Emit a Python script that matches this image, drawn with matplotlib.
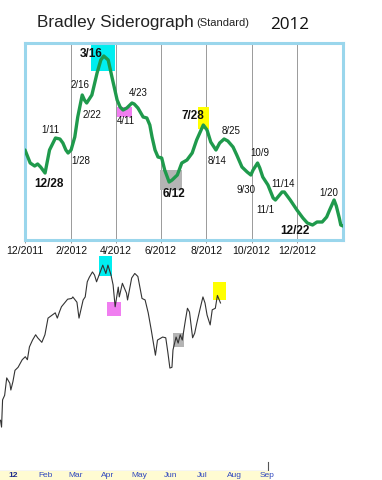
import pandas as pd
import matplotlib.pyplot as plt
import matplotlib.dates as mdates
from matplotlib.patches import Rectangle

plt.rcParams['font.family'] = ['Liberation Sans', 'DejaVu Sans']

# Bradley siderograph (arbitrary units)
sidero_dates = [
    '2011-12-01', '2011-12-08', '2011-12-14', '2011-12-18', '2011-12-22', '2011-12-28',
    '2012-01-03', '2012-01-11', '2012-01-17', '2012-01-21', '2012-01-25', '2012-01-28',
    '2012-02-01', '2012-02-06', '2012-02-10', '2012-02-16', '2012-02-19', '2012-02-22',
    '2012-02-29', '2012-03-07', '2012-03-12', '2012-03-16', '2012-03-22', '2012-03-27',
    '2012-04-03', '2012-04-07', '2012-04-11', '2012-04-16', '2012-04-23', '2012-04-26',
    '2012-05-01', '2012-05-08', '2012-05-13', '2012-05-17', '2012-05-20', '2012-05-24',
    '2012-05-28', '2012-06-02', '2012-06-06', '2012-06-12', '2012-06-16', '2012-06-23',
    '2012-06-29', '2012-07-06', '2012-07-13', '2012-07-19', '2012-07-28', '2012-08-02',
    '2012-08-07', '2012-08-14', '2012-08-19', '2012-08-25', '2012-08-30', '2012-09-06',
    '2012-09-11', '2012-09-18', '2012-09-25', '2012-09-30', '2012-10-03', '2012-10-09',
    '2012-10-12', '2012-10-16', '2012-10-23', '2012-10-30', '2012-11-02', '2012-11-11',
    '2012-11-14', '2012-11-22', '2012-12-01', '2012-12-09', '2012-12-15', '2012-12-22',
    '2012-12-28', '2013-01-04', '2013-01-10', '2013-01-14', '2013-01-20', '2013-01-23',
    '2013-01-27', '2013-01-29', '2013-02-01',
]
sidero_vals = [
    90, 77, 74, 76, 73, 67,
    90, 102, 101, 97, 90, 87,
    90, 103, 123, 145, 140, 137,
    145, 167, 180, 184, 180, 163,
    140, 133, 130, 132, 137, 136,
    132, 123, 122, 115, 103, 90,
    83, 82, 70, 58, 60, 65,
    77, 80, 87, 100, 115, 110,
    98, 90, 97, 101, 99, 93,
    85, 73, 68, 65, 70, 77,
    72, 63, 55, 42, 40, 48,
    48, 40, 30, 22, 17, 15,
    18, 18, 23, 30, 40, 34,
    22, 15, 14,
]

# turning-point labels: text, date, value, bold
turn_labels = ['3/16', '2/16', '2/22', '4/23', '4/11', '1/11', '1/28', '12/28', '6/12',
               '7/28', '8/25', '8/14', '10/9', '9/30', '11/14', '11/1', '12/22', '1/20']
turn_dates = ['2012-02-28', '2012-02-13', '2012-02-29', '2012-05-02', '2012-04-15',
              '2012-01-04', '2012-02-14', '2012-01-02', '2012-06-19', '2012-07-14',
              '2012-09-03', '2012-08-15', '2012-10-12', '2012-09-23', '2012-11-12',
              '2012-10-20', '2012-11-28', '2013-01-13']
turn_vals = [186, 155, 125, 147, 119, 110, 79, 56, 46, 124, 109, 79, 87, 50, 56, 30, 9, 47]
turn_bold = ['3/16', '12/28', '6/12', '7/28', '12/22']

# highlight boxes on the siderograph: start, end, low, high, colour
top_box_start = ['2012-02-28', '2012-04-03', '2012-07-21', '2012-05-31']
top_box_end = ['2012-03-31', '2012-04-23', '2012-08-05', '2012-06-29']
top_box_low = [169, 123, 111, 50]
top_box_high = [195, 133, 133, 70]
box_colors = ['#00eef0', '#f07ef0', '#ffff00', '#b4b4b4']

# stock index (S&P 500 approx.)
spx_dates = [
    '2011-12-18', '2011-12-19', '2011-12-20', '2011-12-22', '2011-12-24', '2011-12-27',
    '2011-12-28', '2011-12-30', '2012-01-01', '2012-01-04', '2012-01-08', '2012-01-11',
    '2012-01-13', '2012-01-15', '2012-01-18', '2012-01-21', '2012-01-23', '2012-01-27',
    '2012-01-30', '2012-02-02', '2012-02-06', '2012-02-09', '2012-02-11', '2012-02-13',
    '2012-02-15', '2012-02-18', '2012-02-21', '2012-02-25', '2012-02-26', '2012-03-01',
    '2012-03-03', '2012-03-07', '2012-03-09', '2012-03-11', '2012-03-13', '2012-03-16',
    '2012-03-18', '2012-03-20', '2012-03-23', '2012-03-26', '2012-03-29', '2012-03-31',
    '2012-04-03', '2012-04-05', '2012-04-07', '2012-04-10', '2012-04-11', '2012-04-14',
    '2012-04-18', '2012-04-19', '2012-04-23', '2012-04-26', '2012-04-29', '2012-05-03',
    '2012-05-06', '2012-05-09', '2012-05-12', '2012-05-16', '2012-05-18', '2012-05-23',
    '2012-05-26', '2012-05-28', '2012-05-30', '2012-06-01', '2012-06-02', '2012-06-05',
    '2012-06-07', '2012-06-09', '2012-06-11', '2012-06-14', '2012-06-16', '2012-06-18',
    '2012-06-21', '2012-06-23', '2012-06-25', '2012-06-28', '2012-07-01', '2012-07-03',
    '2012-07-05', '2012-07-08', '2012-07-10', '2012-07-13', '2012-07-15', '2012-07-18',
]
spx_vals = [
    1214, 1205, 1241, 1247, 1270, 1263,
    1254, 1265, 1280, 1284, 1294, 1298,
    1294, 1311, 1320, 1327, 1323, 1317,
    1327, 1349, 1353, 1356, 1349, 1357,
    1364, 1369, 1374, 1375, 1377, 1370,
    1349, 1373, 1377, 1397, 1403, 1410,
    1406, 1397, 1408, 1419, 1408, 1419,
    1406, 1393, 1364, 1390, 1377, 1395,
    1382, 1373, 1402, 1408, 1404, 1375,
    1373, 1356, 1333, 1300, 1320, 1324,
    1323, 1304, 1283, 1284, 1307, 1324,
    1316, 1327, 1320, 1346, 1362, 1357,
    1323, 1329, 1342, 1360, 1377, 1369,
    1353, 1340, 1360, 1362, 1379, 1369,
]
bot_box_start = ['2012-03-22', '2012-03-30', '2012-07-11', '2012-06-02']
bot_box_end = ['2012-04-04', '2012-04-13', '2012-07-23', '2012-06-13']
bot_box_low = [1404, 1352, 1373, 1311]
bot_box_high = [1431, 1370, 1397, 1329]

month_names = ['12', 'Feb', 'Mar', 'Apr', 'May', 'Jun', 'Jul', 'Aug', 'Sep']
month_starts = pd.date_range('2012-01-01', '2012-09-01', freq='MS')


def add_boxes(ax, starts, ends, lows, highs, colors):
    for s, e, lo, hi, c in zip(starts, ends, lows, highs, colors):
        x0 = mdates.date2num(pd.Timestamp(s))
        x1 = mdates.date2num(pd.Timestamp(e))
        ax.add_patch(Rectangle((x0, lo), x1 - x0, hi - lo, color=c, lw=0, zorder=1))


fig = plt.figure(figsize=(3.82, 4.8), dpi=100)
W, H = 382, 480

# titles
fig.text(37 / W, 1 - 27 / H, 'Bradley Siderograph', fontsize=12.3, color='#222222')
fig.text(196 / W, 1 - 26 / H, '(Standard)', fontsize=8, color='#222222')
fig.text(270 / W, 1 - 29 / H, '2012', fontsize=12.3, color='#111111',
         family=['Open Sans', 'DejaVu Sans'])

# ---- bottom panel: stock index (drawn first so the top panel's labels sit above it)
bx = fig.add_axes([0, 9 / H, 268 / W, 221 / H])
bx.patch.set_alpha(0)
add_boxes(bx, bot_box_start, bot_box_end, bot_box_low, bot_box_high, box_colors)
bx.plot(pd.to_datetime(spx_dates), spx_vals, color='#333333', lw=0.8, zorder=3)
bx.set_xlim(pd.Timestamp('2011-12-17 12:00'), pd.Timestamp('2012-09-02'))
bx.set_ylim(1147, 1439)
bx.set_yticks([])
bx.set_xticks([])
for side in ['top', 'left', 'right']:
    bx.spines[side].set_visible(False)
bx.spines['bottom'].set_color('#555555')
bx.spines['bottom'].set_linewidth(0.8)
bx.plot([1, 1], [0, 9 / 221], transform=bx.transAxes, color='#555555', lw=0.8,
        clip_on=False)

# month label strip
sx = fig.add_axes([0, 0, 270 / W, 9 / H], facecolor='#fffbd2')
sx.set_xlim(bx.get_xlim())
sx.set_ylim(0, 1)
for sp in sx.spines.values():
    sp.set_visible(False)
sx.set_xticks([])
sx.set_yticks([])
for name, d in zip(month_names, month_starts):
    sx.text(d - pd.Timedelta(days=2), 0.45, name, ha='center', va='center', fontsize=6,
            color='#1c2a8c' if name == '12' else '#3048c0',
            fontweight='bold' if name == '12' else 'normal')

# ---- top panel: siderograph
ax = fig.add_axes([25 / W, 1 - 240 / H, 318 / W, 197 / H])
add_boxes(ax, top_box_start, top_box_end, top_box_low, top_box_high, box_colors)
ax.plot(pd.to_datetime(sidero_dates), sidero_vals, color='#1f9a4c', lw=2.4,
        solid_capstyle='round', zorder=3)

for txt, d, v in zip(turn_labels, turn_dates, turn_vals):
    bold = txt in turn_bold
    ax.text(pd.Timestamp(d), v, txt, ha='center', va='center',
            fontsize=8.5 if bold else 7, fontweight='bold' if bold else 'normal',
            color='#111111', zorder=4)

ax.set_xlim(pd.Timestamp('2011-12-01'), pd.Timestamp('2013-02-01'))
ax.set_ylim(0, 197)
ticks = pd.date_range('2011-12-01', '2012-12-01', freq='2MS')
ax.set_xticks(ticks)
ax.set_xticklabels([f'{t.month}/{t.year}' for t in ticks], fontsize=7.5, color='#111111')
ax.tick_params(axis='x', length=2, width=0.6, color='#888888', pad=2)
ax.set_yticks([])
for t in ticks[1:]:
    ax.axvline(t, color='#8a8a8a', lw=0.6, zorder=0)
for sp in ax.spines.values():
    sp.set_color('#9ad6ec')
    sp.set_linewidth(2.2)

fig.savefig('out.png', dpi=100)
